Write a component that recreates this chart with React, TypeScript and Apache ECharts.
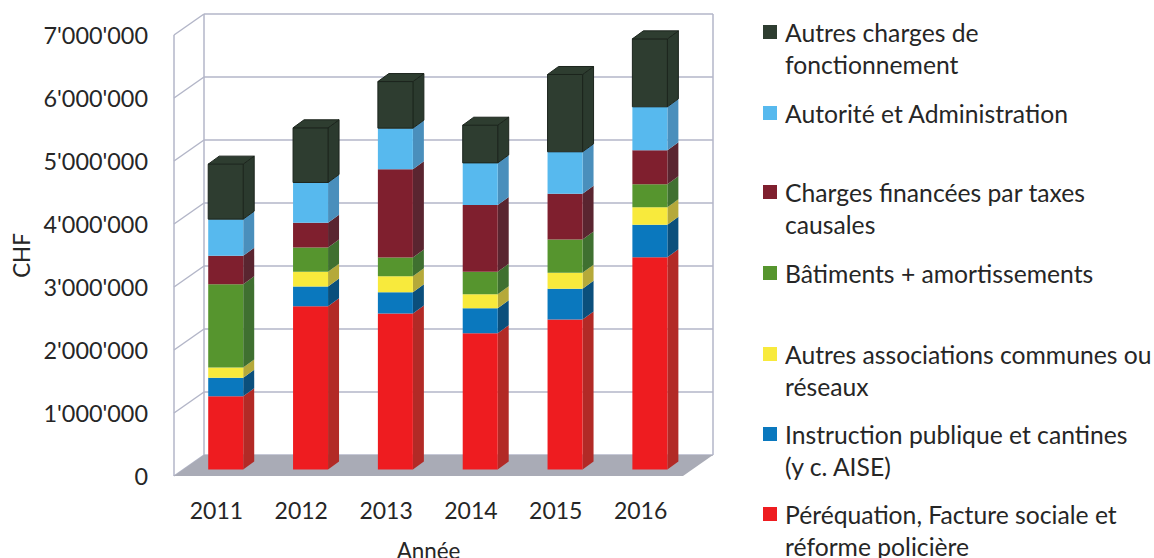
import React, { useEffect, useRef } from "react";
import * as echarts from "echarts";

const years = ["2011", "2012", "2013", "2014", "2015", "2016"];
const yTicks = [0, 1000000, 2000000, 3000000, 4000000, 5000000, 6000000, 7000000];

const perequation = [1164000, 2593000, 2476000, 2164000, 2381000, 3370000];
const instruction = [291000, 312000, 339000, 397000, 487000, 513000];
const associations = [164000, 233000, 254000, 222000, 254000, 280000];
const batiments = [1323000, 386000, 296000, 354000, 529000, 365000];
const taxes = [450000, 392000, 1402000, 1063000, 725000, 540000];
const autorite = [582000, 640000, 651000, 667000, 667000, 689000];
const autres = [873000, 868000, 740000, 598000, 1227000, 1079000];

const stackNames = [
  "Péréquation, Facture sociale et réforme policière",
  "Instruction publique et cantines (y c. AISE)",
  "Autres associations communes ou réseaux",
  "Bâtiments + amortissements",
  "Charges financées par taxes causales",
  "Autorité et Administration",
  "Autres charges de fonctionnement",
];
const stackValues = [perequation, instruction, associations, batiments, taxes, autorite, autres];
const frontColors = ["#ee1c20", "#0a78be", "#f8ea3c", "#56952e", "#7f1f2e", "#57b9ee", "#2e3d30"];
const sideColors = ["#b22a26", "#0b4f7c", "#b5a93a", "#3f7030", "#5a2530", "#4a8fbc", "#2b3a2e"];
const topColors = ["#d02020", "#0a5f96", "#d4c83a", "#4a8030", "#6c2230", "#4fa0d0", "#2e3d30"];

const legendEntries = [
  { text: "Autres charges de\nfonctionnement", color: 6, y: 32 },
  { text: "Autorité et Administration", color: 5, y: 113 },
  { text: "Charges financées par taxes\ncausales", color: 4, y: 192 },
  { text: "Bâtiments + amortissements", color: 3, y: 273 },
  { text: "Autres associations communes ou\nréseaux", color: 2, y: 354 },
  { text: "Instruction publique et cantines\n(y c. AISE)", color: 1, y: 434 },
  { text: "Péréquation, Facture sociale et\nréforme policière", color: 0, y: 514 },
];

const FONT = "Lato, Carlito, 'Noto Sans', sans-serif";
const TEXT = "#262626";
const WALL = "#b3b6c8";
const WALL_DX = 30;
const WALL_DY = -21;
const BAR_DX = 9.3;
const BAR_DY = -6.5;
const BAR_W = 35;
const DEPTH_DX = 11;
const DEPTH_DY = -8;

function poly(points: number[][], fill: string, stroke?: string) {
  return {
    type: "polygon",
    shape: { points },
    style: { fill, stroke: stroke || null, lineWidth: stroke ? 1 : 0 },
  };
}

function wallSeries() {
  return {
    type: "custom",
    silent: true,
    coordinateSystem: "cartesian2d",
    z: 1,
    data: yTicks.map((v) => [0, v]),
    renderItem: (params: any, api: any) => {
      const cs = params.coordSys;
      const y = api.coord([0, api.value(1)])[1];
      const left = cs.x;
      const right = cs.x + cs.width;
      const stroke = { stroke: WALL, lineWidth: 1.5 };
      const line = (x1: number, y1: number, x2: number, y2: number) => ({
        type: "line",
        shape: { x1, y1, x2, y2 },
        style: stroke,
      });
      const children: any[] = [
        line(left, y, left + WALL_DX, y + WALL_DY),
        line(left + WALL_DX, y + WALL_DY, right + WALL_DX, y + WALL_DY),
      ];
      if (params.dataIndex === 0) {
        children.unshift(
          line(left, cs.y, left, cs.y + cs.height),
          line(left + WALL_DX, cs.y + WALL_DY, left + WALL_DX, cs.y + cs.height + WALL_DY),
          line(right + WALL_DX, cs.y + WALL_DY, right + WALL_DX, cs.y + cs.height + WALL_DY)
        );
        children.push(
          poly(
            [
              [left, y],
              [right, y],
              [right + WALL_DX, y + WALL_DY],
              [left + WALL_DX, y + WALL_DY],
            ],
            "#a9abb6"
          )
        );
      }
      return { type: "group", children };
    },
  };
}

function stackSeries(idx: number) {
  const values = stackValues[idx];
  const data = values.map((v, i) => {
    let base = 0;
    for (let s = 0; s < idx; s++) base += stackValues[s][i];
    return [i, base, base + v];
  });
  const isTop = idx === stackValues.length - 1;
  const edge = isTop ? "#1c251d" : undefined;
  return {
    type: "custom",
    name: stackNames[idx],
    silent: true,
    coordinateSystem: "cartesian2d",
    z: 3 + idx,
    data,
    encode: { x: 0, y: [1, 2] },
    renderItem: (_: any, api: any) => {
      const lo = api.coord([api.value(0), api.value(1)]);
      const hi = api.coord([api.value(0), api.value(2)]);
      const xl = lo[0] + BAR_DX - BAR_W / 2;
      const xr = xl + BAR_W;
      const yb = lo[1] + BAR_DY;
      const yt = hi[1] + BAR_DY;
      const children: any[] = [
        poly(
          [
            [xr, yb],
            [xr + DEPTH_DX, yb + DEPTH_DY],
            [xr + DEPTH_DX, yt + DEPTH_DY],
            [xr, yt],
          ],
          sideColors[idx],
          edge
        ),
        {
          type: "rect",
          shape: { x: xl, y: yt, width: BAR_W, height: yb - yt },
          style: { fill: frontColors[idx], stroke: edge || null, lineWidth: edge ? 1 : 0 },
        },
      ];
      if (isTop) {
        children.push(
          poly(
            [
              [xl, yt],
              [xl + DEPTH_DX, yt + DEPTH_DY],
              [xr + DEPTH_DX, yt + DEPTH_DY],
              [xr, yt],
            ],
            topColors[idx],
            edge
          )
        );
      }
      return { type: "group", children };
    },
  };
}

function legendGraphics() {
  const items: any[] = [];
  legendEntries.forEach((e) => {
    items.push({
      type: "rect",
      shape: { x: 763, y: e.y - 7, width: 14, height: 14 },
      style: { fill: frontColors[e.color] },
    });
    items.push({
      type: "text",
      x: 785,
      y: e.y - 16,
      style: {
        text: e.text,
        font: `24.7px ${FONT}`,
        lineHeight: 32,
        fill: TEXT,
        textVerticalAlign: "top",
      },
    });
  });
  return items;
}

export default function App() {
  const ref = useRef<HTMLDivElement>(null);
  useEffect(() => {
    const chart = echarts.init(ref.current!, null, { renderer: "svg" });
    chart.setOption({
      animation: false,
      backgroundColor: "#ffffff",
      grid: { left: 174, top: 35, width: 509, height: 441, containLabel: false, outerBoundsMode: "none" },
      xAxis: {
        type: "category",
        data: years,
        name: "Année",
        nameLocation: "middle",
        nameGap: 63,
        nameTextStyle: { fontFamily: FONT, fontSize: 22.4, color: TEXT },
        axisLine: { show: false },
        axisTick: { show: false },
        axisLabel: { fontFamily: FONT, fontSize: 23, color: TEXT, margin: 22 },
      },
      yAxis: {
        type: "value",
        min: 0,
        max: 7000000,
        interval: 1000000,
        name: "CHF",
        nameLocation: "middle",
        nameGap: 142,
        nameRotate: 90,
        nameTextStyle: { fontFamily: FONT, fontSize: 22.4, color: TEXT },
        axisLine: { show: false },
        axisTick: { show: false },
        splitLine: { show: false },
        axisLabel: {
          fontFamily: FONT,
          fontSize: 23.4,
          color: TEXT,
          margin: 26,
          formatter: (v: number) => String(v).replace(/\B(?=(\d{3})+(?!\d))/g, "'"),
        },
      },
      graphic: legendGraphics(),
      series: [wallSeries(), ...stackValues.map((_, i) => stackSeries(i))],
    });
    return () => chart.dispose();
  }, []);
  return (
    <div
      ref={ref}
      style={{ position: "absolute", left: 0, top: 0, width: 1154, height: 558 }}
    />
  );
}
